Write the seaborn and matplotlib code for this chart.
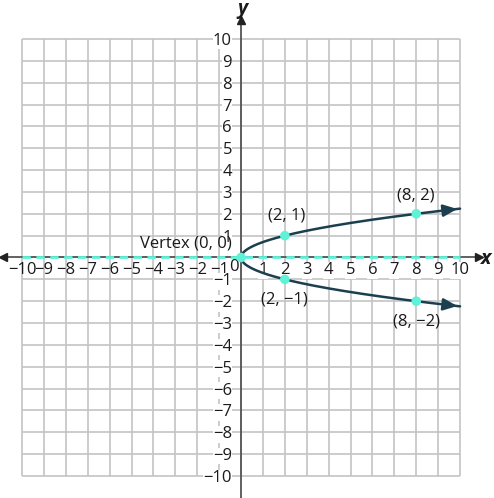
import matplotlib
matplotlib.use("Agg")
import matplotlib.pyplot as plt
import seaborn as sns
import numpy as np
import pandas as pd

# parabola x = a * y^2, coefficient read from the labelled points
coef_a = 2
curve_y_min, curve_y_max = -2.236, 2.236

point_x = [0, 2, 2, 8, 8]
point_y = [0, 1, -1, 2, -2]
point_labels = ["Vertex (0, 0)", "(2, 1)", "(2, \u22121)", "(8, 2)", "(8, \u22122)"]
label_x = [-2.5, 2.1, 2.0, 8.0, 8.0]
label_y = [0.62, 1.92, -1.9, 2.82, -2.95]

ticks = list(range(-10, 11))
tick_labels = [f"{t}".replace("-", "\u2212") for t in ticks]

curve_color = "#1c3f50"
point_color = "#5ef2d8"
grid_color = "#c4c4c4"
axis_color = "#555555"
text_color = "#1a1a1a"

sns.set_theme(style="white")
plt.rcParams["font.family"] = ["Open Sans", "DejaVu Sans"]

fig = plt.figure(figsize=(4.94, 4.98), dpi=100)
ax = fig.add_axes([0, 0, 1, 1])
ax.set_xlim(-11.005, 11.55)
ax.set_ylim(-11.007, 11.785)
ax.set_axisbelow(False)

# grid restricted to the -10..10 square
ax.vlines(ticks, -10, 10, color=grid_color, lw=1.2, zorder=0.2)
ax.hlines(ticks, -10, 10, color=grid_color, lw=1.2, zorder=0.2)

# axes through the origin
for s in ["top", "right"]:
    ax.spines[s].set_visible(False)
ax.spines["left"].set_position("zero")
ax.spines["bottom"].set_position("zero")
ax.spines["bottom"].set_bounds(-10.85, 10.85)
ax.spines["left"].set_bounds(-11.2, 10.85)
for s in ["left", "bottom"]:
    ax.spines[s].set_color(axis_color)
    ax.spines[s].set_linewidth(1.3)
    ax.spines[s].set_zorder(2)
ax.plot([10.85], [0], marker=">", color="#222222", ms=6, clip_on=False, zorder=3)
ax.plot([-10.85], [0], marker="<", color="#222222", ms=6, clip_on=False, zorder=3)
ax.plot([0], [10.85], marker="^", color="#222222", ms=6, clip_on=False, zorder=3)

xt = [t for t in ticks if t != 0]
ax.set_xticks(xt)
ax.set_xticklabels([tick_labels[ticks.index(t)] for t in xt])
ax.set_yticks(xt)
ax.set_yticklabels([tick_labels[ticks.index(t)] for t in xt])
ax.tick_params(axis="both", direction="inout", length=7, width=1.2, color="#333333",
               labelsize=12, labelcolor=text_color)
ax.tick_params(axis="x", pad=0)
ax.tick_params(axis="y", pad=3)
for t, lbl in zip(xt, ax.get_xticklabels()):
    if t > 0:
        lbl.set_bbox(dict(facecolor="white", edgecolor="none", pad=0.3))
for lbl in ax.get_yticklabels():
    lbl.set_bbox(dict(facecolor="white", edgecolor="none", pad=0.3))
ax.text(-0.32, -0.45, "0", ha="center", va="center", fontsize=12, color=text_color)

ax.text(10.95, -0.05, "x", ha="left", va="center", fontsize=14,
        fontweight="bold", fontstyle="italic", color=text_color)
ax.text(0.05, 11.15, "y", ha="center", va="baseline", fontsize=14,
        fontweight="bold", fontstyle="italic", color=text_color)

# axis of symmetry
ax.plot([-10, 10], [0, 0], ls=(0, (3, 2)), color=point_color, lw=2, zorder=3)

# the parabola
cy = np.linspace(curve_y_min, curve_y_max, 300)
curve = pd.DataFrame({"x": coef_a * cy ** 2, "y": cy})
sns.lineplot(data=curve, x="x", y="y", sort=False, estimator=None,
             color=curve_color, lw=1.8, ax=ax, zorder=4)
for end in [curve_y_max, curve_y_min]:
    back = end * 0.97
    ax.annotate("", xy=(coef_a * end ** 2, end), xytext=(coef_a * back ** 2, back),
                arrowprops=dict(arrowstyle="-|>,head_length=0.7,head_width=0.3",
                                color=curve_color, lw=1.8), zorder=4)

pts = pd.DataFrame({"x": point_x, "y": point_y})
sns.scatterplot(data=pts, x="x", y="y", s=48, color=point_color, edgecolor="none",
                ax=ax, zorder=5)
for t, lx, ly in zip(point_labels, label_x, label_y):
    ax.text(lx, ly, t, ha="center", va="center", fontsize=12, color=text_color)

ax.set_xlabel("")
ax.set_ylabel("")

fig.savefig("out.png", dpi=100)
